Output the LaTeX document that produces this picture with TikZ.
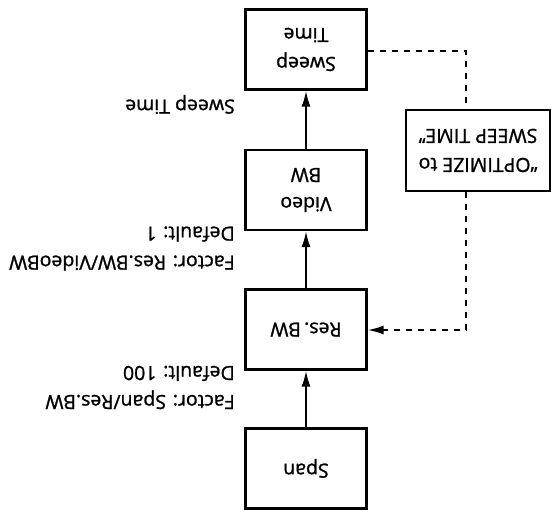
\documentclass[tikz,border=0pt]{standalone}
\usepackage{fontspec}
\setmainfont{Open Sans}[UprightFeatures={FakeBold=1.2}]
\usepackage{tikz}
\usetikzlibrary{positioning,arrows.meta}

\begin{document}
\begin{tikzpicture}[
  x=1pt, y=1pt, rotate=180, transform shape,
  font=\fontsize{19.5}{29}\selectfont,
  box/.style={draw, line width=2.2pt, minimum width=121pt, minimum height=80pt, align=center, inner sep=2pt},
  note/.style={anchor=west, align=left, inner sep=0pt},
  arr/.style={line width=2pt, -{Latex[length=16pt,width=9pt]}},
  dsh/.style={line width=2pt, dash pattern=on 6pt off 6pt}]
\useasboundingbox (0,0) rectangle (551,509);
\node[box] (span) at (245,468.5) {Span};
\node[box] (res) at (245,329.5) {Res.\,BW};
\node[box] (vid) at (245,190) {Video\\BW};
\node[box] (swp) at (245,49.5) {Sweep\\Time};
\node[box, minimum width=144pt, minimum height=81pt] (opt) at (73,150.5) {“OPTIMIZE to\\SWEEP TIME”};
\node[note] (l1) at (316,387.5) {Factor: Span/Res.BW\\Default: 100};
\node[note] (l2) at (316,248.5) {Factor: Res.BW/VideoBW\\Default: 1};
\node[note] (l3) at (316,104.5) {Sweep Time};
\draw[arr] (span) -- (res); \draw[arr] (res) -- (vid); \draw[arr] (vid) -- (swp);
% feedback loop
\coordinate (c1) at (85,51);
\coordinate (c2) at (85,330);
\draw[dsh] (swp.west |- c1) -- (c1) -- (opt.south -| c1);
\draw[dsh, -{Latex[length=16pt,width=9pt]}] (opt.north -| c2) -- (c2) -- (res.west |- c2);
\end{tikzpicture}
\end{document}
